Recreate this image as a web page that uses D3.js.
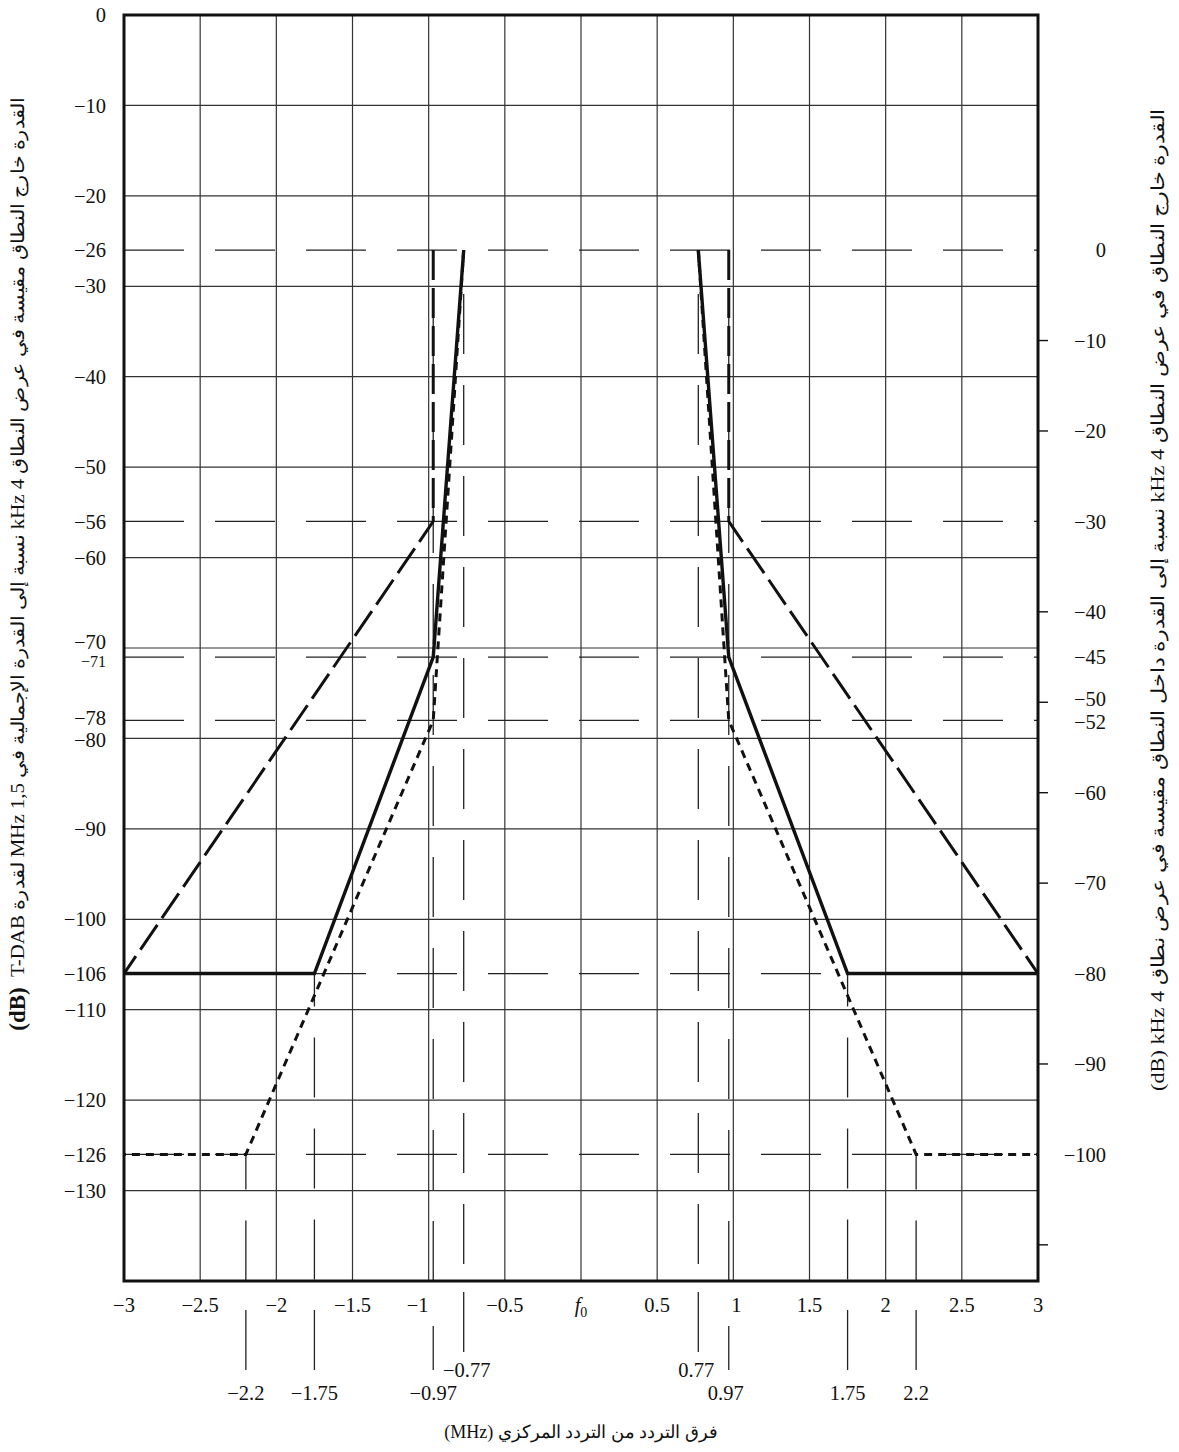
<!DOCTYPE html>
<html>
<head>
<meta charset="utf-8">
<script src="https://cdn.jsdelivr.net/npm/d3@7"></script>
<style>
  html, body { margin: 0; padding: 0; background: #fff; }
  svg { display: block; }
  text { font-family: "Liberation Serif", "Times New Roman", serif; fill: #111; }
</style>
</head>
<body>
<script>
// ---------------- data ----------------
const xGridValues = [-2.5, -2, -1.5, -1, -0.5, 0, 0.5, 1, 1.5, 2, 2.5];
const xTickValues = [-3, -2.5, -2, -1.5, -1, -0.5, 0, 0.5, 1, 1.5, 2, 2.5, 3];
const xTickLabels = ["−3", "−2.5", "−2", "−1.5", "−1", "−0.5", "f0", "0.5", "1", "1.5", "2", "2.5", "3"];
const yGridValues = [-10, -20, -30, -40, -50, -60, -70, -80, -90, -100, -110, -120, -130];
const leftTickValues = [0, -10, -20, -26, -30, -40, -50, -56, -60, -70, -71, -78, -80, -90, -100, -106, -110, -120, -126, -130];
const rightTickValues = [0, -10, -20, -30, -40, -45, -50, -52, -60, -70, -80, -90, -100];
const rightOuterTicks = [-10, -20, -40, -50, -60, -70, -90, -110];
const rightOffset = 26; // right scale = left scale + 26 dB
const refLevels = [-26, -56, -71, -78, -106, -126];          // dashed horizontal references
const refFreqs = [-2.2, -1.75, -0.97, -0.77, 0.77, 0.97, 1.75, 2.2];
const refFreqTop = [-126, -106, -26, -26, -26, -26, -106, -126]; // top level of each vertical reference
const refFreqLabels = ["−2.2", "−1.75", "−0.97", "−0.77", "0.77", "0.97", "1.75", "2.2"];

// mask curves (frequency MHz, level dB)
const maskSolidLeft  = [[-0.77, -26], [-0.97, -71], [-1.75, -106], [-3, -106]];
const maskSolidRight = [[0.77, -26], [0.97, -71], [1.75, -106], [3, -106]];
const maskDashLeft   = [[-0.97, -26], [-0.97, -56], [-3, -106]];
const maskDashRight  = [[0.97, -26], [0.97, -56], [3, -106]];
const maskDotLeft    = [[-0.77, -26], [-0.97, -78], [-2.2, -126], [-3, -126]];
const maskDotRight   = [[0.77, -26], [0.97, -78], [2.2, -126], [3, -126]];

const leftTitle = "القدرة خارج النطاق مقيسة في عرض النطاق 4 kHz نسبة إلى القدرة الإجمالية في 1,5 MHz لقدرة T-DAB";
const leftTitleUnit = "(dB)";
const rightTitle = "القدرة خارج النطاق في عرض النطاق 4 kHz نسبة إلى القدرة داخل النطاق مقيسة في عرض نطاق 4 kHz \u200F(dB)";
const bottomTitle = "فرق التردد من التردد المركزي (MHz)";

// ---------------- layout ----------------
const W = 1179, H = 1452;
const x = d3.scaleLinear().domain([-3, 3]).range([124, 1038]);
const y = d3.scaleLinear().domain([0, -140]).range([15, 1281]);
const yR = d3.scaleLinear().domain([0 + rightOffset, -140 + rightOffset]).range([15, 1281]);

const svg = d3.select("body").append("svg").attr("width", W).attr("height", H);

svg.append("clipPath").attr("id", "plot").append("rect")
  .attr("x", x(-3)).attr("y", y(0)).attr("width", x(3) - x(-3)).attr("height", y(-140) - y(0));

// grid
const grid = svg.append("g").attr("stroke", "#333").attr("stroke-width", 1.2);
grid.selectAll("line.v").data(xGridValues).join("line")
  .attr("x1", d => x(d)).attr("x2", d => x(d)).attr("y1", y(0)).attr("y2", y(-140));
grid.selectAll("line.h").data(yGridValues).join("line")
  .attr("x1", x(-3)).attr("x2", x(3)).attr("y1", d => y(d)).attr("y2", d => y(d));

// dashed reference lines
const refs = svg.append("g").attr("stroke", "#222").attr("stroke-width", 1.3).attr("fill", "none")
  .attr("clip-path", "url(#plot)");
refs.selectAll("line.h").data(refLevels).join("line")
  .attr("x1", x(-3)).attr("x2", x(3)).attr("y1", d => y(d)).attr("y2", d => y(d))
  .attr("stroke-dasharray", "60,31");
const vOffsets = { "-2.2": 25, "-1.75": 27, "-0.97": 30, "-0.77": 47, "0.77": 47, "0.97": 30, "1.75": 27, "2.2": 25 };
refs.selectAll("line.v").data(refFreqs).join("line")
  .attr("x1", d => x(d)).attr("x2", d => x(d))
  .attr("y1", (d, i) => y(refFreqTop[i])).attr("y2", y(-140))
  .attr("stroke-dasharray", "60,31")
  .attr("stroke-dashoffset", d => vOffsets[String(d)]);

// reference extension lines below the axis
const extTop = { "-2.2": 1310, "-1.75": 1310, "-0.97": 1326, "-0.77": 1292, "0.77": 1292, "0.97": 1326, "1.75": 1310, "2.2": 1310 };
const extBot = { "-2.2": 1370, "-1.75": 1370, "-0.97": 1370, "-0.77": 1352, "0.77": 1352, "0.97": 1370, "1.75": 1370, "2.2": 1370 };
svg.append("g").attr("stroke", "#222").attr("stroke-width", 1.3)
  .selectAll("line").data(refFreqs).join("line")
  .attr("x1", d => x(d)).attr("x2", d => x(d))
  .attr("y1", d => extTop[String(d)]).attr("y2", d => extBot[String(d)]);

// mask curves
const line = d3.line().x(d => x(d[0])).y(d => y(d[1]));
const curves = svg.append("g").attr("fill", "none").attr("stroke", "#111").attr("clip-path", "url(#plot)");
[maskDashLeft, maskDashRight].forEach(c => curves.append("path").attr("d", line(c))
  .attr("stroke-width", 3).attr("stroke-dasharray", "30,8"));
[maskDotLeft, maskDotRight].forEach(c => curves.append("path").attr("d", line(c))
  .attr("stroke-width", 3).attr("stroke-dasharray", "8,6"));
[maskSolidLeft, maskSolidRight].forEach(c => curves.append("path").attr("d", line(c))
  .attr("stroke-width", 3.4).attr("stroke-linejoin", "miter"));

// frame
svg.append("rect").attr("x", x(-3)).attr("y", y(0)).attr("width", x(3) - x(-3)).attr("height", y(-140) - y(0))
  .attr("fill", "none").attr("stroke", "#111").attr("stroke-width", 3);

// right outward ticks
svg.append("g").attr("stroke", "#111").attr("stroke-width", 1.4)
  .selectAll("line").data(rightOuterTicks).join("line")
  .attr("x1", x(3)).attr("x2", x(3) + 10).attr("y1", d => yR(d)).attr("y2", d => yR(d));

// left tick labels
const leftShift = { "-70": -6, "-71": 4, "-78": -3, "-80": 1 };
svg.append("g").selectAll("text").data(leftTickValues).join("text")
  .attr("x", 106).attr("y", d => y(d) + (leftShift[String(d)] || 0))
  .attr("dy", "0.35em").attr("text-anchor", "end")
  .attr("font-size", d => d === -71 ? 16 : 20.5)
  .text(d => d === 0 ? "0" : "−" + Math.abs(d));

// right tick labels
const rightShift = { "-50": -3, "-52": 1 };
svg.append("g").selectAll("text").data(rightTickValues).join("text")
  .attr("x", 1106).attr("y", d => yR(d) + (rightShift[String(d)] || 0))
  .attr("dy", "0.35em").attr("text-anchor", "end").attr("font-size", 20.5)
  .text(d => d === 0 ? "0" : "−" + Math.abs(d));

// bottom tick labels
const xShift = { "-1": -11, "1": 3 };
const bl = svg.append("g").selectAll("text").data(xTickValues).join("text")
  .attr("x", d => x(d) + (xShift[String(d)] || 0)).attr("y", 1312)
  .attr("text-anchor", "middle").attr("font-size", 20.5);
bl.each(function(d, i) {
  const t = d3.select(this);
  if (xTickLabels[i] === "f0") {
    t.append("tspan").attr("font-style", "italic").text("f");
    t.append("tspan").attr("font-size", 14).attr("dy", 5).text("0");
  } else {
    t.text(xTickLabels[i]);
  }
});

// special frequency labels
const rowY = { "-0.77": 1377, "0.77": 1377 };
svg.append("g").selectAll("text").data(refFreqs).join("text")
  .attr("x", d => x(d) + (d === -0.77 ? 3 : d === 0.77 ? -2 : d === 0.97 ? -3 : 0))
  .attr("y", d => rowY[String(d)] || 1400)
  .attr("text-anchor", "middle").attr("font-size", 20.5)
  .text((d, i) => refFreqLabels[i]);

// axis titles
svg.append("text")
  .attr("transform", `translate(24, 537) rotate(-90)`)
  .attr("text-anchor", "middle").attr("direction", "rtl").style("direction", "rtl")
  .attr("font-size", 18)
  .attr("textLength", 880).attr("lengthAdjust", "spacingAndGlyphs")
  .text(leftTitle);
svg.append("text")
  .attr("transform", `translate(25, 1009) rotate(-90)`)
  .attr("text-anchor", "middle").attr("font-size", 23).attr("font-weight", "bold")
  .text(leftTitleUnit);
svg.append("text")
  .attr("transform", `translate(1164, 600) rotate(-90)`)
  .attr("text-anchor", "middle").attr("direction", "rtl").style("direction", "rtl")
  .attr("font-size", 18)
  .attr("textLength", 982).attr("lengthAdjust", "spacingAndGlyphs")
  .text(rightTitle);
svg.append("text")
  .attr("x", 581).attr("y", 1438)
  .attr("text-anchor", "middle").attr("direction", "rtl").style("direction", "rtl")
  .attr("font-size", 18)
  .text(bottomTitle);
</script>
</body>
</html>
